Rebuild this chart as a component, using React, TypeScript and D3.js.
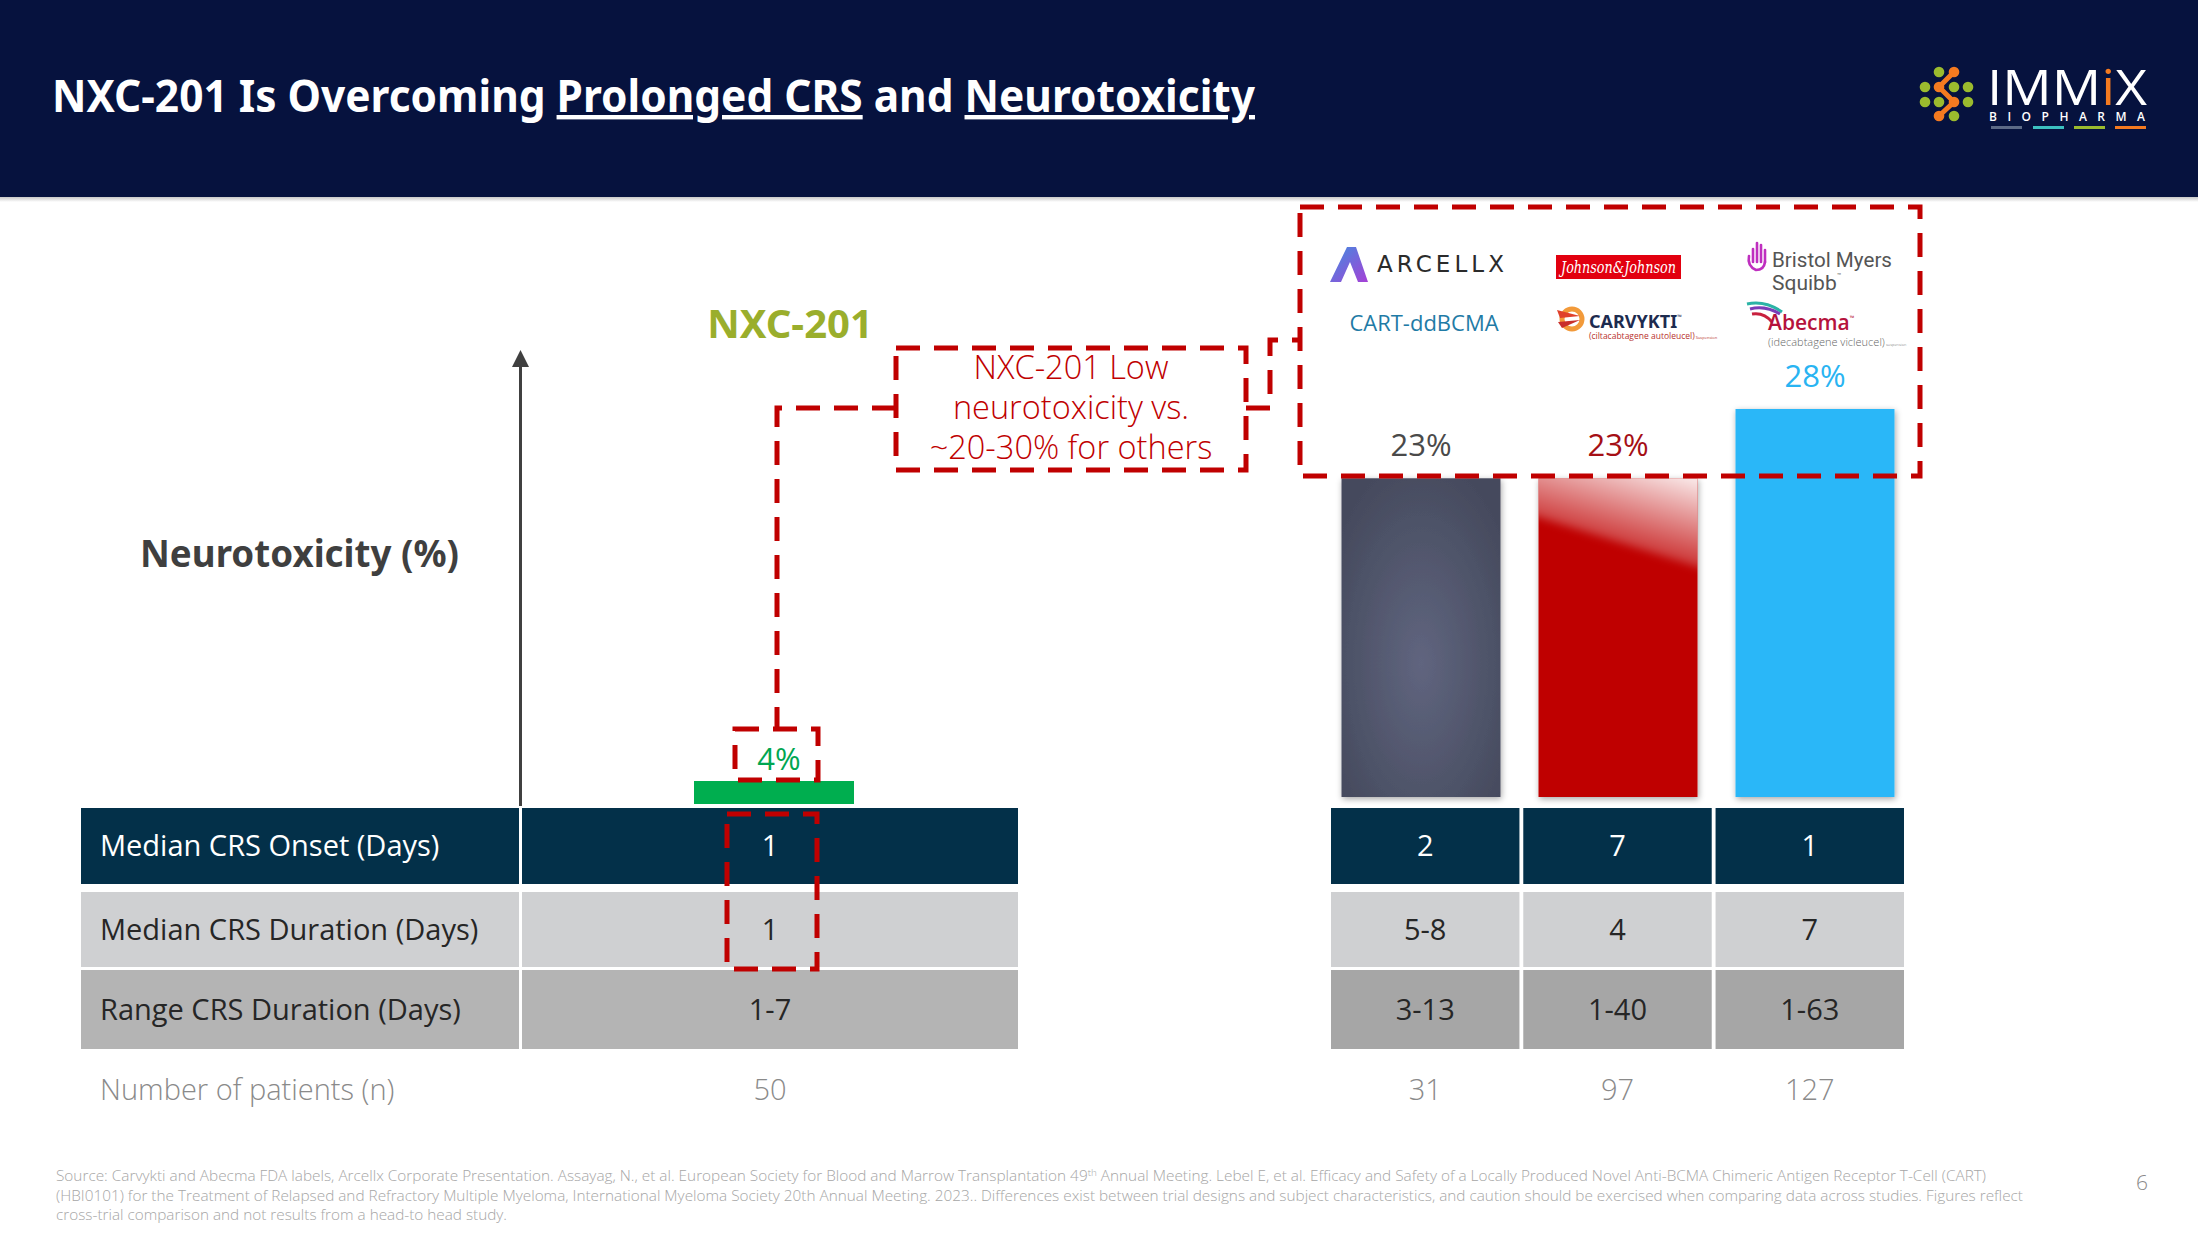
import React from "react";
import * as d3 from "d3";

// ---------- data ----------
const products = ["CART-ddBCMA", "CARVYKTI", "Abecma"];
const neurotox = [23, 23, 28];
const nxcLabel = "NXC-201";
const nxcNeurotox = 4;
const rowLabels = [
  "Median CRS Onset (Days)",
  "Median CRS Duration (Days)",
  "Range CRS Duration (Days)",
  "Number of patients (n)",
];
const nxcValues = ["1", "1", "1-7", "50"];
const cartValues = ["2", "5-8", "3-13", "31"];
const carvyktiValues = ["7", "4", "1-40", "97"];
const abecmaValues = ["1", "7", "1-63", "127"];
const calloutLines = ["NXC-201 Low", "neurotoxicity vs.", "~20-30% for others"];
const footLines = [
  "Source: Carvykti and Abecma FDA labels, Arcellx Corporate Presentation. Assayag, N., et al. European Society for Blood and Marrow Transplantation 49",
  " Annual Meeting. Lebel E, et al. Efficacy and Safety of a Locally Produced Novel Anti-BCMA Chimeric Antigen Receptor T-Cell (CART)",
  "(HBI0101) for the Treatment of Relapsed and Refractory Multiple Myeloma, International Myeloma Society 20th Annual Meeting. 2023.. Differences exist between trial designs and subject characteristics, and caution should be exercised when comparing data across studies. Figures reflect",
  "cross-trial comparison and not results from a head-to head study.",
];

const W = 2198;
const H = 1236;
const SANS = "'Open Sans', 'Noto Sans', sans-serif";
const BOLD = "'Noto Sans', 'Open Sans', sans-serif";
const RED = "#c00000";

export default function App() {
  const y = d3.scaleLinear().domain([0, 28]).range([797, 409]);
  const yLeft = d3.scaleLinear().domain([0, nxcNeurotox]).range([804, 781]);
  const xBars = d3
    .scaleBand<string>()
    .domain(products)
    .range([1322.5, 1913.5])
    .paddingInner(0.193)
    .paddingOuter(0.0965);
  const xCols = d3.scaleBand<string>().domain(products).range([1331, 1904]).paddingInner(0.02);
  const colValues = [cartValues, carvyktiValues, abecmaValues];
  const barFills = ["url(#grayGrad)", "#bf0000", "#29b7f8"];
  const labelColors = ["#4a4a4a", "#a50f15", "#29b4f2"];

  const rows = [
    { y0: 808, y1: 884, fill: "#033049", fillR: "#033049", text: "#ffffff" },
    { y0: 892, y1: 967, fill: "#cfd0d2", fillR: "#cfd0d2", text: "#262626" },
    { y0: 970, y1: 1049, fill: "#b4b4b4", fillR: "#a6a6a6", text: "#262626" },
    { y0: 1060, y1: 1120, fill: "none", fillR: "none", text: "#8a8a8a" },
  ];
  const base = (r: { y0: number; y1: number }) => (r.y0 + r.y1) / 2 + 10;

  const dash = { stroke: RED, strokeWidth: 5, strokeDasharray: "24 14", fill: "none" } as const;

  const redX0 = xBars("CARVYKTI")!;
  const redTop = y(23);
  const redW = xBars.bandwidth();

  return (
    <svg
      width={W}
      height={H}
      viewBox={`0 0 ${W} ${H}`}
      style={{ position: "fixed", left: 0, top: 0, background: "#fff" }}
    >
      <defs>
        <radialGradient id="grayGrad" cx="50%" cy="58%" r="65%">
          <stop offset="0%" stopColor="#60657f" />
          <stop offset="100%" stopColor="#454a5d" />
        </radialGradient>
        <linearGradient id="gloss" x1="0.25" y1="1" x2="0.75" y2="0">
          <stop offset="0%" stopColor="#ffffff" stopOpacity="0" />
          <stop offset="35%" stopColor="#ffffff" stopOpacity="0.25" />
          <stop offset="100%" stopColor="#ffffff" stopOpacity="0.92" />
        </linearGradient>
        <linearGradient id="arcGrad" x1="0" y1="0" x2="1" y2="1">
          <stop offset="0%" stopColor="#3f8fe0" />
          <stop offset="100%" stopColor="#a640d6" />
        </linearGradient>
        <linearGradient id="hdrShadow" x1="0" y1="0" x2="0" y2="1">
          <stop offset="0%" stopColor="#c8c8c8" />
          <stop offset="100%" stopColor="#ffffff" />
        </linearGradient>
        <filter id="barShadow" x="-20%" y="-10%" width="140%" height="120%">
          <feDropShadow dx="1" dy="2" stdDeviation="3" floodColor="#000" floodOpacity="0.35" />
        </filter>
        <filter id="blur4">
          <feGaussianBlur stdDeviation="4" />
        </filter>
        <clipPath id="redClip">
          <rect x={redX0} y={redTop} width={redW} height={y(0) - redTop} />
        </clipPath>
      </defs>

      <rect x={0} y={0} width={W} height={H} fill="#ffffff" />

      {/* header */}
      <rect x={0} y={0} width={W} height={197} fill="#06123e" />
      <rect x={0} y={197} width={W} height={5} fill="url(#hdrShadow)" />
      <text
        x={52}
        y={112}
        fontFamily={BOLD}
        fontWeight={700}
        fontSize={44}
        fill="#ffffff"
        textLength={1203}
        lengthAdjust="spacingAndGlyphs"
      >
        {"NXC-201 Is Overcoming "}
        <tspan style={{ textDecoration: "underline" }}>Prolonged CRS</tspan>
        {" and "}
        <tspan style={{ textDecoration: "underline" }}>Neurotoxicity</tspan>
      </text>

      {/* IMMiX logo */}
      <g>
        <path
          d="M1954,72 L1939,87 L1954,102 L1939,116"
          stroke="#f47a20"
          strokeWidth={5}
          fill="none"
          strokeLinejoin="round"
        />
        {[
          [1939, 72, "#9bbb2e"],
          [1954, 72, "#f47a20"],
          [1925, 87, "#9bbb2e"],
          [1939, 87, "#f47a20"],
          [1954, 87, "#9bbb2e"],
          [1968, 87, "#9bbb2e"],
          [1925, 102, "#9bbb2e"],
          [1939, 102, "#9bbb2e"],
          [1954, 102, "#f47a20"],
          [1968, 102, "#9bbb2e"],
          [1939, 116, "#f47a20"],
          [1954, 116, "#9bbb2e"],
        ].map(([cx, cy, c], i) => (
          <circle key={i} cx={cx as number} cy={cy as number} r={5.3} fill={c as string} />
        ))}
        <text
          x={1987}
          y={105}
          fontFamily={SANS}
          fontWeight={400}
          fontSize={50}
          fill="#ffffff"
          textLength={160}
          lengthAdjust="spacingAndGlyphs"
        >
          IMM<tspan fill="#f47a20">i</tspan>X
        </text>
        <text
          x={1989}
          y={121}
          fontFamily={SANS}
          fontWeight={600}
          fontSize={12}
          fill="#ffffff"
          textLength={156}
        >
          BIOPHARMA
        </text>
        <rect x={1991} y={126} width={31} height={3} fill="#5c6a86" />
        <rect x={2033} y={126} width={31} height={3} fill="#3cc0c0" />
        <rect x={2074} y={126} width={31} height={3} fill="#9bbb2e" />
        <rect x={2115} y={126} width={31} height={3} fill="#f47a20" />
      </g>

      {/* y axis label + arrow */}
      <text
        x={140}
        y={567}
        fontFamily={BOLD}
        fontWeight={700}
        fontSize={37}
        fill="#3f3f3f"
        textLength={319}
        lengthAdjust="spacingAndGlyphs"
      >
        Neurotoxicity (%)
      </text>
      <line x1={520.5} x2={520.5} y1={806} y2={364} stroke="#404040" strokeWidth={3} />
      <path d="M512,367 L529,367 L520.5,350 Z" fill="#404040" />

      {/* NXC label */}
      <text
        x={790}
        y={338}
        textAnchor="middle"
        fontFamily={BOLD}
        fontWeight={700}
        fontSize={40}
        fill="#9aae2c"
      >
        {nxcLabel}
      </text>

      {/* NXC bar */}
      <rect
        x={694}
        y={yLeft(nxcNeurotox)}
        width={160}
        height={yLeft(0) - yLeft(nxcNeurotox)}
        fill="#00ae4f"
      />
      <text x={779} y={770} textAnchor="middle" fontFamily={SANS} fontSize={31} fill="#00a651">
        {nxcNeurotox}%
      </text>

      {/* competitor bars */}
      {products.map((p, i) => (
        <rect
          key={p}
          x={xBars(p)}
          y={y(neurotox[i])}
          width={xBars.bandwidth()}
          height={y(0) - y(neurotox[i])}
          fill={barFills[i]}
          filter="url(#barShadow)"
        />
      ))}
      <g clipPath="url(#redClip)">
        <polygon
          points={`${redX0 - 10},${redTop - 10} ${redX0 + redW + 10},${redTop - 10} ${redX0 + redW + 10},${redTop + 92} ${redX0 - 10},${redTop + 36}`}
          fill="url(#gloss)"
          filter="url(#blur4)"
        />
      </g>
      {products.map((p, i) => (
        <text
          key={p + "l"}
          x={xBars(p)! + xBars.bandwidth() / 2}
          y={y(neurotox[i]) - 22}
          textAnchor="middle"
          fontFamily={SANS}
          fontSize={31}
          fill={labelColors[i]}
        >
          {neurotox[i]}%
        </text>
      ))}

      {/* product logos */}
      <g>
        <path
          d="M1330,282 L1347,247 L1356,247 L1368,282 L1358,282 L1350,262 L1341,282 Z"
          fill="url(#arcGrad)"
        />
        <text
          x={1377}
          y={272}
          fontFamily="'DejaVu Sans', sans-serif"
          fontSize={23}
          fill="#2b2b2b"
          textLength={127}
          lengthAdjust="spacing"
        >
          ARCELLX
        </text>
        <text x={1424} y={331} textAnchor="middle" fontFamily={SANS} fontSize={22} fill="#1f7ba6">
          CART-ddBCMA
        </text>

        <rect x={1556} y={255} width={125} height={24} fill="#e2000f" />
        <text
          x={1561}
          y={273}
          fontFamily="'DejaVu Serif', serif"
          fontStyle="italic"
          fontSize={17}
          fill="#ffffff"
          textLength={115}
          lengthAdjust="spacingAndGlyphs"
        >
          Johnson&amp;Johnson
        </text>
        <circle cx={1572} cy={319} r={10} fill="none" stroke="#f29a3a" strokeWidth={5} />
        <path d="M1557,310 L1580,316 L1560,318 Z" fill="#e0412b" />
        <path d="M1558,322 L1580,320 L1562,328 Z" fill="#c9302c" />
        <text x={1589} y={328} fontFamily={BOLD} fontWeight={700} fontSize={18} fill="#1d2b4f">
          CARVYKTI
          <tspan fontSize={6} dy={-9}>™</tspan>
        </text>
        <text x={1589} y={339} fontFamily={SANS} fontSize={8.5} fill="#b8322e">
          (ciltacabtagene autoleucel)
          <tspan fontSize={4}> Suspension</tspan>
        </text>

        <g stroke="#bf2fbf" strokeWidth={2.6} strokeLinecap="round" fill="none">
          <line x1={1753} y1={262} x2={1753} y2={249} />
          <line x1={1757} y1={262} x2={1757} y2={243} />
          <line x1={1761} y1={262} x2={1761} y2={245} />
          <line x1={1765} y1={262} x2={1765} y2={250} />
          <path d="M1749,256 Q1747,266 1756,270 Q1764,270 1765,262" />
        </g>
        <text x={1772} y={267} fontFamily="Roboto, sans-serif" fontSize={21} fill="#555555" textLength={120} lengthAdjust="spacingAndGlyphs">
          Bristol Myers
        </text>
        <text x={1772} y={290} fontFamily="Roboto, sans-serif" fontSize={21} fill="#555555">
          Squibb
          <tspan fontSize={7} dy={-12}>™</tspan>
        </text>

        <path d="M1747,304 Q1765,300 1782,312" stroke="#2bb3a6" strokeWidth={3} fill="none" />
        <path d="M1750,309 Q1765,305 1780,314" stroke="#7a3db8" strokeWidth={3} fill="none" />
        <path d="M1752,314 Q1764,312 1772,322" stroke="#c8203e" strokeWidth={3} fill="none" />
        <text x={1768} y={330} fontFamily={SANS} fontWeight={600} fontSize={21}  fill="#b5123c">
          Abecma
          <tspan fontSize={6} dy={-10}>™</tspan>
        </text>
        <text x={1768} y={346} fontFamily={SANS} fontWeight={300} fontSize={11} fill="#666666">
          (idecabtagene vicleucel)
          <tspan fontSize={4}> suspension</tspan>
        </text>
      </g>

      {/* dashed boxes / connectors */}
      <rect x={1300} y={207} width={620} height={269} {...dash} />
      <rect x={896} y={348} width={350} height={122} {...dash} />
      <path d="M896,408 L777,408 L777,729" {...dash} />
      <path d="M1246,408 L1270,408 L1270,340 L1300,340" {...dash} />
      <rect x={735} y={729} width={83} height={51} {...dash} />
      {calloutLines.map((l, i) => (
        <text
          key={l}
          x={1071}
          y={379 + i * 40}
          textAnchor="middle"
          fontFamily={SANS}
          fontWeight={300}
          fontSize={32.5}
          fill={RED}
        >
          {l}
        </text>
      ))}

      {/* left table */}
      {rows.map((r, i) => (
        <g key={"lt" + i}>
          {r.fill !== "none" && (
            <>
              <rect x={81} y={r.y0} width={438} height={r.y1 - r.y0} fill={r.fill} />
              <rect x={522} y={r.y0} width={496} height={r.y1 - r.y0} fill={r.fill} />
            </>
          )}
          <text
            x={100}
            y={base(r)}
            fontFamily={SANS}
            fontWeight={i === 3 ? 300 : 400}
            fontSize={29}
            fill={r.text}
          >
            {rowLabels[i]}
          </text>
          <text
            x={770}
            y={base(r)}
            textAnchor="middle"
            fontFamily={SANS}
            fontWeight={i === 3 ? 300 : 400}
            fontSize={29}
            fill={r.text}
          >
            {nxcValues[i]}
          </text>
        </g>
      ))}
      <rect x={727} y={814} width={90} height={155} {...dash} />

      {/* right table */}
      {rows.map((r, i) => (
        <g key={"rt" + i}>
          {products.map((p, j) => (
            <g key={p}>
              {r.fillR !== "none" && (
                <rect x={xCols(p)} y={r.y0} width={xCols.bandwidth()} height={r.y1 - r.y0} fill={r.fillR} />
              )}
              <text
                x={xCols(p)! + xCols.bandwidth() / 2}
                y={base(r)}
                textAnchor="middle"
                fontFamily={SANS}
                fontWeight={i === 3 ? 300 : 400}
                fontSize={29}
                fill={r.text}
              >
                {colValues[j][i]}
              </text>
            </g>
          ))}
        </g>
      ))}

      {/* footnote */}
      <g fontFamily={SANS} fontWeight={300} fontSize={14} fill="#a6a6a6">
        <text x={56} y={1181} textLength={1930} lengthAdjust="spacingAndGlyphs">
          {footLines[0]}
          <tspan fontSize={9} dy={-5}>th</tspan>
          <tspan dy={5}>{footLines[1]}</tspan>
        </text>
        <text x={56} y={1201} textLength={1967} lengthAdjust="spacingAndGlyphs">
          {footLines[2]}
        </text>
        <text x={56} y={1220} textLength={451} lengthAdjust="spacingAndGlyphs">
          {footLines[3]}
        </text>
      </g>
      <text x={2142} y={1190} textAnchor="middle" fontFamily={SANS} fontWeight={300} fontSize={21} fill="#8a8a8a">
        6
      </text>
    </svg>
  );
}
